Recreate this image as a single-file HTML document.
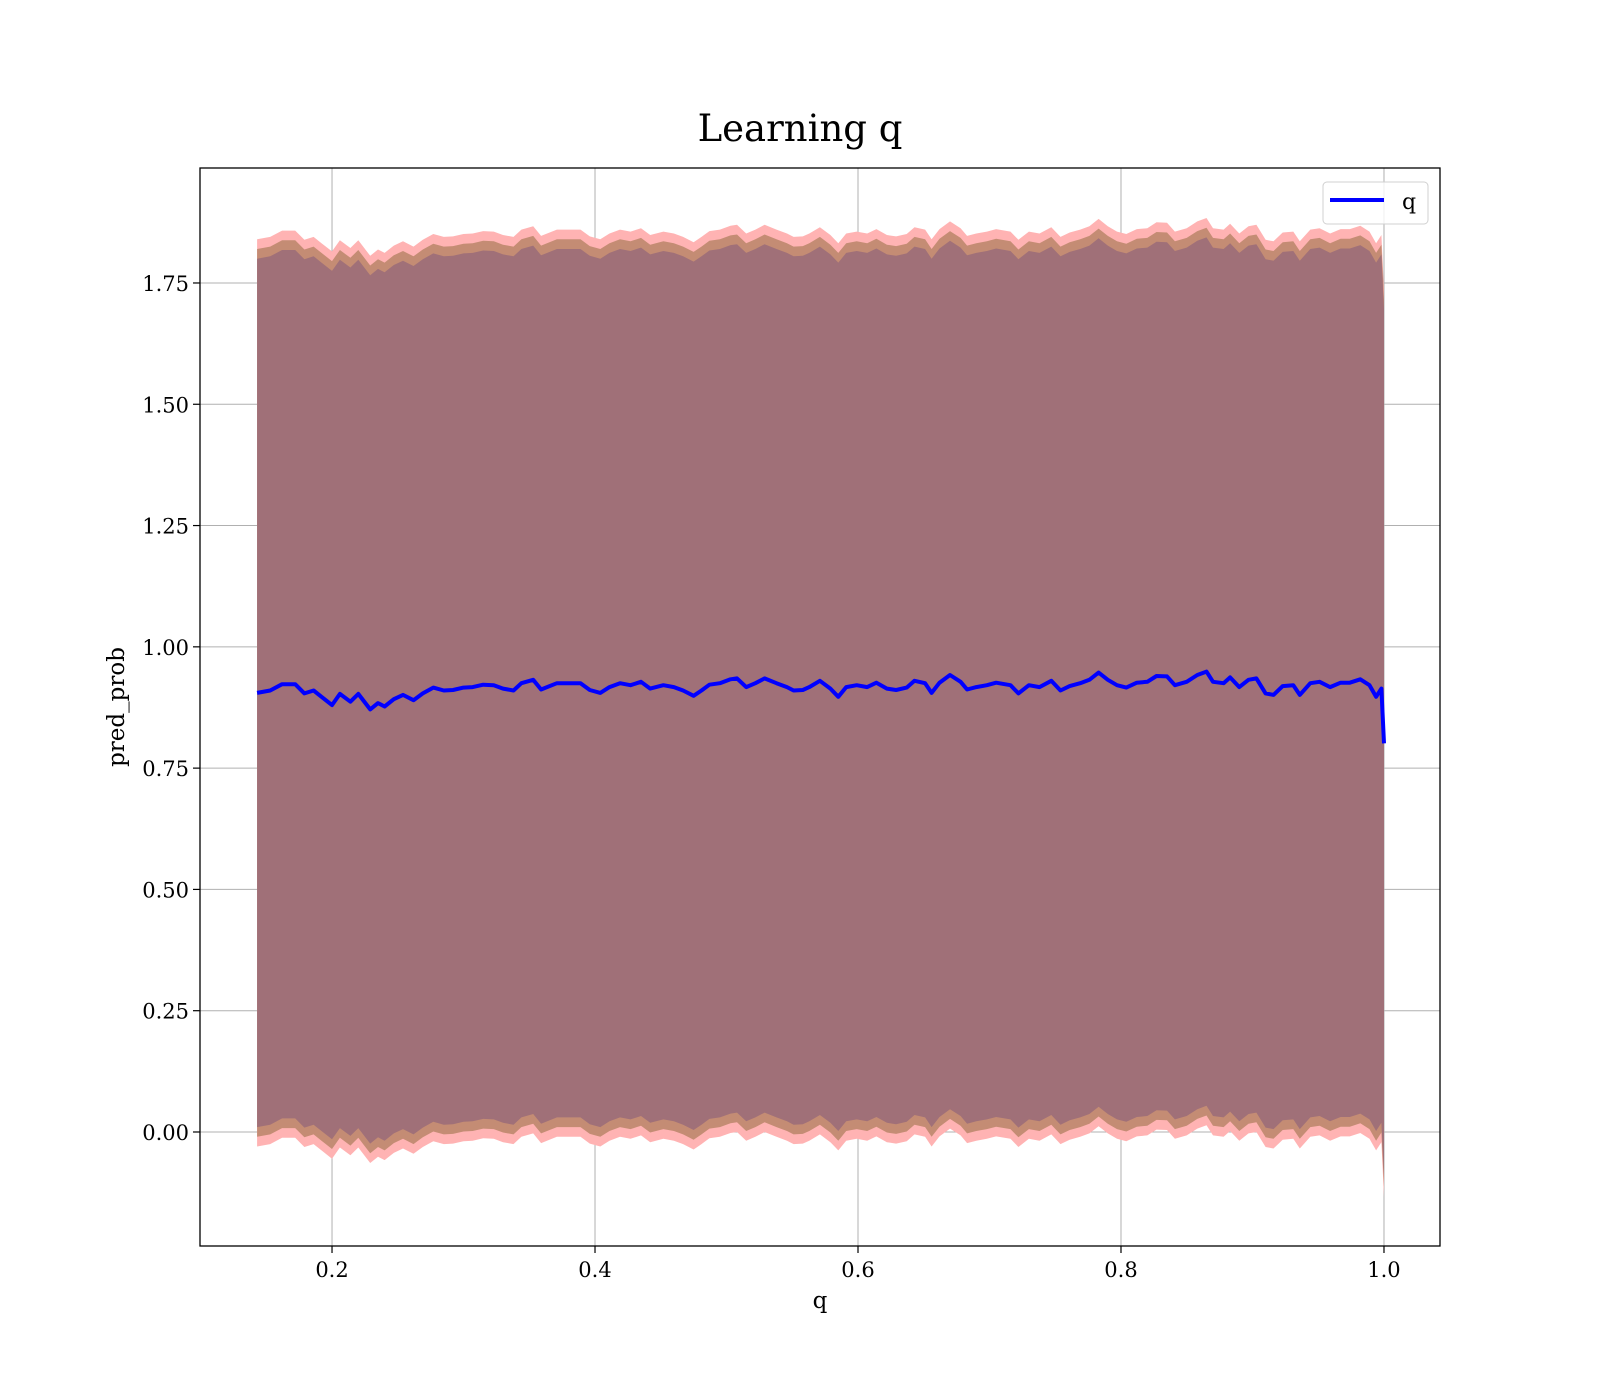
<!DOCTYPE html>
<html><head><meta charset="utf-8"><style>
html,body{margin:0;padding:0;background:#fff;}
svg{display:block;font-family:"DejaVu Serif","Liberation Serif",serif;}
</style></head><body>
<svg id="chart" width="1600" height="1400" viewBox="0 0 1600 1400" xmlns="http://www.w3.org/2000/svg">
<rect width="1600" height="1400" fill="#fff"/>
<text x="800" y="141" text-anchor="middle" font-size="37">Learning q</text>
<g id="plot"></g>
<text x="820" y="1308" text-anchor="middle" font-size="23">q</text>
<text transform="translate(124,707) rotate(-90)" text-anchor="middle" font-size="23">pred_prob</text>
</svg>
<script>
const qValues = [0.143,0.153,0.162,0.172,0.179,0.186,0.192,0.200,0.206,0.214,0.220,0.229,0.235,0.240,0.247,0.254,0.262,0.269,0.277,0.285,0.292,0.300,0.307,0.315,0.323,0.330,0.338,0.344,0.353,0.359,0.371,0.381,0.389,0.396,0.404,0.411,0.419,0.427,
0.435,0.442,0.452,0.460,0.467,0.475,0.481,0.487,0.495,0.503,0.508,0.515,0.522,0.529,0.538,0.546,0.551,0.558,0.563,0.571,0.579,0.585,0.591,0.599,0.607,0.614,0.622,0.629,0.637,0.643,0.651,0.656,0.662,0.670,0.678,0.683,0.690,0.698,0.705,0.716,
0.722,0.730,0.738,0.747,0.754,0.761,0.769,0.776,0.783,0.790,0.797,0.804,0.812,0.820,0.827,0.835,0.841,0.850,0.858,0.865,0.870,0.878,0.883,0.890,0.897,0.903,0.910,0.916,0.923,0.931,0.936,0.944,0.951,0.959,0.967,0.974,0.982,0.989,0.994,0.998,1.000];
const meanValues = [0.905,0.910,0.923,0.923,0.904,0.910,0.897,0.880,0.903,0.887,0.903,0.871,0.884,0.877,0.892,0.901,0.890,0.904,0.916,0.910,0.911,0.916,0.917,0.922,0.921,0.914,0.910,0.925,0.932,0.912,0.925,0.925,0.925,0.911,0.905,0.917,0.925,0.921,
0.928,0.914,0.921,0.917,0.910,0.899,0.910,0.922,0.925,0.933,0.935,0.917,0.925,0.935,0.925,0.917,0.910,0.911,0.917,0.930,0.914,0.897,0.917,0.921,0.917,0.926,0.914,0.911,0.916,0.930,0.925,0.905,0.926,0.942,0.928,0.912,0.917,0.921,0.926,0.921,
0.904,0.921,0.917,0.930,0.910,0.919,0.925,0.932,0.947,0.932,0.921,0.916,0.926,0.928,0.940,0.939,0.921,0.928,0.942,0.949,0.928,0.925,0.937,0.917,0.932,0.935,0.904,0.901,0.919,0.921,0.901,0.925,0.928,0.917,0.926,0.926,0.933,0.921,0.897,0.914,0.801];
const bandWidths = [0.935, 0.915, 0.895];
const bandColors = ["#ffb3b3", "#c48c74", "#a07078"];
const xTicks = [0.2, 0.4, 0.6, 0.8, 1.0];
const xTickLabels = ["0.2","0.4","0.6","0.8","1.0"];
const yTicks = [0, 0.25, 0.5, 0.75, 1.0, 1.25, 1.5, 1.75];
const yTickLabels = ["0.00","0.25","0.50","0.75","1.00","1.25","1.50","1.75"];

const L=200,R=1440,T=168,B=1246;
const xMin=0.0996,xMax=1.0426,yMin=-0.235,yMax=1.987;
const sx=v=>L+(v-xMin)/(xMax-xMin)*(R-L);
const sy=v=>B-(v-yMin)/(yMax-yMin)*(B-T);
const NS="http://www.w3.org/2000/svg";
const plot=document.getElementById('plot');
function mk(tag,attrs,parent){const e=document.createElementNS(NS,tag);for(const k in attrs)e.setAttribute(k,attrs[k]);(parent||plot).appendChild(e);return e;}

// grid
xTicks.forEach((t,i)=>{const g=mk('line',{x1:sx(t),x2:sx(t),y1:T,y2:B,stroke:'#b0b0b0','stroke-width':1});

});
yTicks.forEach((t,i)=>{const g=mk('line',{x1:L,x2:R,y1:sy(t),y2:sy(t),stroke:'#b0b0b0','stroke-width':1});

});

// bands
bandWidths.forEach((w,bi)=>{
  let d='';
  qValues.forEach((q,i)=>{d+=(i?'L':'M')+sx(q).toFixed(1)+','+sy(meanValues[i]+w).toFixed(1);});
  for(let i=qValues.length-1;i>=0;i--){d+='L'+sx(qValues[i]).toFixed(1)+','+sy(meanValues[i]-w).toFixed(1);}
  const p=mk('path',{d:d+'Z',fill:bandColors[bi]});
  
  
});

// mean line
{let d='';qValues.forEach((q,i)=>{d+=(i?'L':'M')+sx(q).toFixed(1)+','+sy(meanValues[i]).toFixed(1);});
const ln=mk('path',{d:d,fill:'none',stroke:'#0000ff','stroke-width':4,'stroke-linejoin':'round'});

}

// frame
{const f=mk('rect',{x:L,y:T,width:R-L,height:B-T,fill:'none',stroke:'#000','stroke-width':1.3});

}

// ticks
xTicks.forEach((t,i)=>{mk('line',{x1:sx(t),x2:sx(t),y1:B,y2:B+7,stroke:'#000','stroke-width':1.2});
const tx=mk('text',{x:sx(t),y:B+31,'text-anchor':'middle','font-size':21});tx.textContent=xTickLabels[i];

});
yTicks.forEach((t,i)=>{mk('line',{x1:L-7,x2:L,y1:sy(t),y2:sy(t),stroke:'#000','stroke-width':1.2});
const tx=mk('text',{x:L-11,y:sy(t)+8,'text-anchor':'end','font-size':21});tx.textContent=yTickLabels[i];

});

// legend
{const lg=mk('g',{});


mk('rect',{x:1323,y:182,width:105,height:42,rx:4,fill:'rgba(255,255,255,0.8)',stroke:'#d0d0d0','stroke-width':1},lg);
mk('line',{x1:1330,x2:1384,y1:200,y2:200,stroke:'#0000ff','stroke-width':4},lg);
const t=mk('text',{x:1402,y:209,'font-size':22},lg);t.textContent='q';

}
</script>
</body></html>
